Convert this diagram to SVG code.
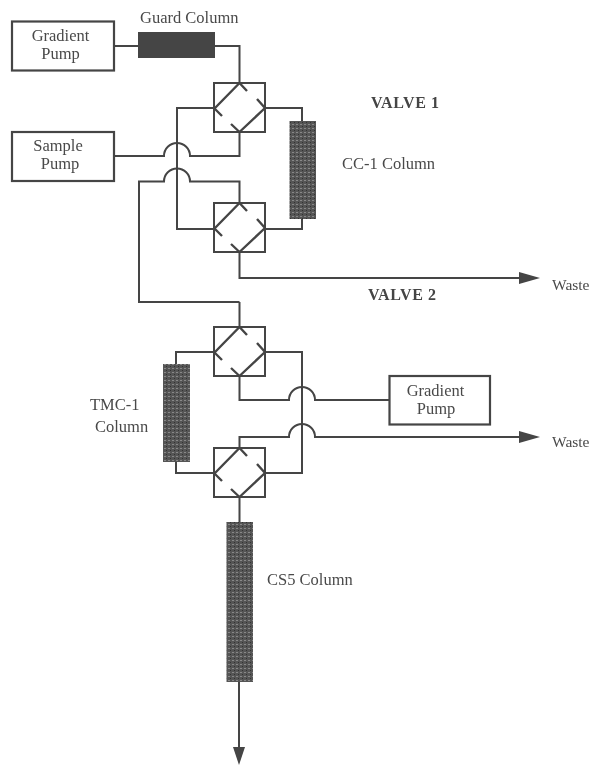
<svg xmlns="http://www.w3.org/2000/svg" width="591" height="765" viewBox="0 0 591 765">
<defs>
<filter id="soft" x="-5%" y="-5%" width="110%" height="110%"><feGaussianBlur stdDeviation="0.55"/></filter>
<pattern id="dots" width="4" height="4" patternUnits="userSpaceOnUse"><rect width="4" height="4" fill="#555"/><rect width="2" height="1" fill="#888"/><rect x="2" y="2" width="1" height="1" fill="#333"/></pattern>
<g id="valve"><rect x="0" y="0" width="51" height="49"/><path d="M1 25L25.500 0M25.500 0L33 8M0 25L8 33M51 25L25.500 49M51 25L43 16M25.500 49L17 41" stroke-width="2.400"/></g>
</defs>
<style>
.l{fill:none;stroke:#444;stroke-width:2}
.b{fill:#fff;stroke:#444;stroke-width:2.200}
.c{stroke:none}
.t{font-family:"Liberation Serif",serif;font-size:16.500px;fill:#4a4a4a}
.w{font-family:"Liberation Serif",serif;font-size:15.500px;fill:#4a4a4a}
.h{font-family:"Liberation Serif",serif;font-size:16px;font-weight:bold;fill:#444;letter-spacing:.6px}
.m{text-anchor:middle}
</style>
<rect width="591" height="765" fill="#fff"/>
<g filter="url(#soft)">
<g id="connectors" class="l">
<path d="M114 46H138M215 46H239.500V83"/>
<path d="M214 108H177V229H214"/>
<path d="M265 108H302V121M302 219V229H265"/>
<path d="M114 156H164A13 13 0 0 1 190 156H239.500V132"/>
<path d="M239.500 302H139V181.500H164A13 13 0 0 1 190 181.500H239.500V203"/>
<path d="M239.500 252V278H525"/>
<path d="M239.500 302V327"/>
<path d="M214 352H176V364M176 462V473H214"/>
<path d="M265 352H302V473H265"/>
<path d="M239.500 376V400H289A13 13 0 0 1 315 400H390"/>
<path d="M239.500 448V437H289A13 13 0 0 1 315 437H525"/>
<path d="M239.500 497V522M239 681V750"/>
<path d="M519 272L540 278L519 284Z" fill="#444" stroke="none"/>
<path d="M519 431L540 437L519 443Z" fill="#444" stroke="none"/>
<path d="M233 747L239 765L245 747Z" fill="#444" stroke="none"/>
</g>
<g id="gradient-pump-1"><rect class="b" x="12" y="21.500" width="102" height="49"/><text class="t m" x="60.500" y="40.500">Gradient</text><text class="t m" x="60.500" y="58.500">Pump</text></g>
<g id="guard-column"><rect class="c" x="138" y="32" width="77" height="26" fill="#444"/><text class="t" x="140" y="23">Guard Column</text></g>
<g id="valve-1a" class="l"><use href="#valve" x="214" y="83"/></g>
<g id="valve-1b" class="l"><use href="#valve" x="214" y="203"/></g>
<g id="valve-2a" class="l"><use href="#valve" x="214" y="327"/></g>
<g id="valve-2b" class="l"><use href="#valve" x="214" y="448"/></g>
<g id="sample-pump"><rect class="b" x="12" y="132" width="102" height="49"/><text class="t m" x="58" y="151">Sample</text><text class="t m" x="60" y="169">Pump</text></g>
<g id="cc1-column"><rect class="c" x="289.500" y="121" width="26.500" height="98" fill="url(#dots)"/><text class="t" x="342" y="169">CC-1 Column</text></g>
<g id="valve-1-label"><text class="h" x="371" y="108">VALVE 1</text></g>
<g id="valve-2-label"><text class="h" x="368" y="300">VALVE 2</text></g>
<g id="waste-1"><text class="w" x="552" y="290">Waste</text></g>
<g id="waste-2"><text class="w" x="552" y="447">Waste</text></g>
<g id="gradient-pump-2"><rect class="b" x="389.500" y="376" width="100.500" height="48.500"/><text class="t m" x="435.500" y="396">Gradient</text><text class="t m" x="436" y="414">Pump</text></g>
<g id="tmc1-column"><rect class="c" x="163" y="364" width="27" height="98" fill="url(#dots)"/><text class="t" x="90" y="410">TMC-1</text><text class="t" x="95" y="432">Column</text></g>
<g id="cs5-column"><rect class="c" x="226.500" y="522" width="26.500" height="160" fill="url(#dots)"/><text class="t" x="267" y="585">CS5 Column</text></g>
</g>
</svg>
